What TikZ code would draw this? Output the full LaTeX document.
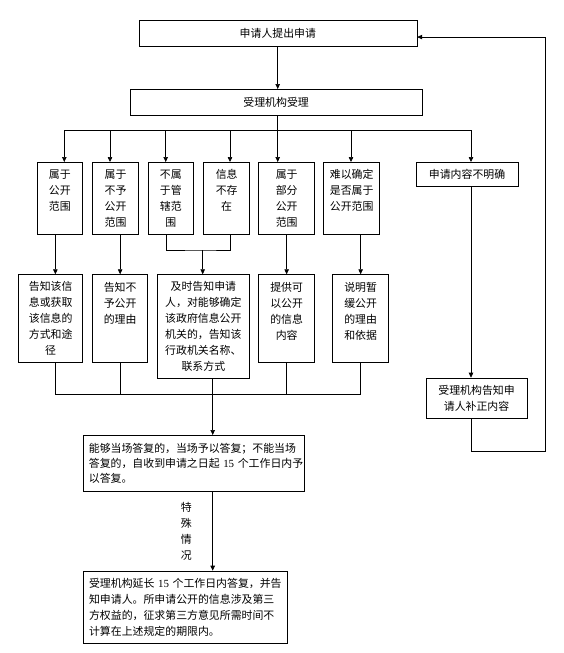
\documentclass[tikz,border=0pt]{standalone}
\usepackage{fontspec}
\setmainfont{Noto Sans CJK SC}
\newfontfamily\latinnum{Liberation Serif}
\usetikzlibrary{arrows.meta, positioning}

\begin{document}
\begin{tikzpicture}[x=1pt, y=-1pt,
    kuang/.style={draw, line width=0.7pt, inner sep=0pt, align=center, anchor=north west,
                  font=\fontsize{10.9pt}{16pt}\selectfont},
    xian/.style={line width=0.7pt},
    jiantou/.style={line width=0.7pt, -{Triangle[length=5pt,width=4.5pt]}}]
  \useasboundingbox (0,0) rectangle (563,653);

  \node[kuang, minimum width=278pt, minimum height=25.7pt] (tichu) at (138.5,20) {申请人提出申请};
  \node[kuang, minimum width=292.5pt, minimum height=26pt] (shouli) at (129.5,89) {受理机构受理};

  \node[kuang, minimum width=45.6pt, minimum height=72pt] (gongkai) at (36.7,162) {属于\\公开\\范围\\\mbox{}};
  \node[kuang, minimum width=45.7pt, minimum height=72pt] (buyu) at (92.3,162) {属于\\不予\\公开\\范围};
  \node[kuang, minimum width=45.6pt, minimum height=72pt] (buguanxia) at (147.7,162) {不属\\于管\\辖范\\围};
  \node[kuang, minimum width=46pt, minimum height=72pt] (bucunzai) at (203.3,162) {信息\\不存\\在\\\mbox{}};
  \node[kuang, minimum width=56pt, minimum height=72pt] (bufen) at (258.3,162) {属于\\部分\\公开\\范围};
  \node[kuang, minimum width=56pt, minimum height=72pt] (nanyi) at (323.3,162) {难以确定\\是否属于\\公开范围\\\mbox{}};
  \node[kuang, minimum width=102pt, minimum height=24pt] (buming) at (415.7,162) {申请内容不明确};

  \node[kuang, minimum width=64pt, minimum height=88pt] (gaozhi) at (18.3,274.3) {告知该信\\息或获取\\该信息的\\方式和途\\径};
  \node[kuang, minimum width=55pt, minimum height=88pt] (liyou) at (92.3,274.3) {告知不\\予公开\\的理由\\\mbox{}\\\mbox{}};
  \node[kuang, minimum width=92.6pt, minimum height=104pt] (zhuanjiao) at (156.7,274.3) {及时告知申请\\人，对能够确定\\该政府信息公开\\机关的，告知该\\行政机关名称、\\联系方式};
  \node[kuang, minimum width=56pt, minimum height=88pt] (tigong) at (258.3,274.3) {提供可\\以公开\\的信息\\内容\\\mbox{}};
  \node[kuang, minimum width=56pt, minimum height=88pt] (shuoming) at (332.3,274.3) {说明暂\\缓公开\\的理由\\和依据\\\mbox{}};
  \node[kuang, minimum width=101pt, minimum height=40.6pt] (buzheng) at (425.7,377.7) {受理机构告知申\\请人补正内容};

  \node[kuang, align=left, text width=210pt, inner xsep=5.8pt, minimum height=56pt,
        font=\fontsize{10.9pt}{15pt}\selectfont] (dafu) at (82.7,435)
        {能够当场答复的，当场予以答复；不能当场\\答复的，自收到申请之日起~{\latinnum 15}~个工作日内予\\以答复。};
  \node[kuang, align=left, text width=192pt, inner xsep=6pt, minimum height=72.6pt] (yanchang) at (82.7,570.7)
        {受理机构延长~{\latinnum 15}~个工作日内答复，并告\\知申请人。所申请公开的信息涉及第三\\方权益的，征求第三方意见所需时间不\\计算在上述规定的期限内。};

  \coordinate (zong) at (277.7,130);
  \draw[jiantou] (tichu.south -| zong) -- (shouli.north -| zong);
  \draw[xian] (shouli.south -| zong) -- (zong);
  \foreach \x/\n [count=\i] in {64.3/gongkai, 110/buyu, 165.7/buguanxia, 230/bucunzai,
                                277.7/bufen, 351/nanyi, 471/buming} {
    \coordinate (b\i) at (\x,130);
    \draw[jiantou] (b\i) -- (b\i |- \n.north);
  }
  \draw[xian] (b1) -- (b7);

  \draw[jiantou] ([xshift=4.7pt]gaozhi.north |- gongkai.south) -- ([xshift=4.7pt]gaozhi.north);
  \draw[jiantou] (liyou.north |- buyu.south) -- (liyou.north);
  \draw[jiantou] (tigong.north |- bufen.south) -- (tigong.north);
  \draw[jiantou] (shuoming.north |- nanyi.south) -- (shuoming.north);
  \coordinate (he) at (202.7,250);
  \draw[xian] ([xshift=-4.8pt]buguanxia.south) |- (he) -| ([xshift=3.7pt]bucunzai.south);
  \draw[jiantou] (he) -- (he |- zhuanjiao.north);

  \coordinate (hui) at (212.7,394);
  \draw[xian] ([xshift=4.7pt]gaozhi.south) |- (shuoming.south |- hui) -- (shuoming.south);
  \draw[xian] (liyou.south) -- (liyou.south |- hui);
  \draw[xian] (tigong.south) -- (tigong.south |- hui);
  \draw[xian] (hui |- zhuanjiao.south) -- (hui);
  \draw[jiantou] (hui) -- (hui |- dafu.north);
  \draw[jiantou] (hui |- dafu.south) -- (hui |- yanchang.north)
    node[midway, left=20.5pt, inner sep=0pt, align=center, font=\fontsize{10.9pt}{16pt}\selectfont] (teshu) {特\\殊\\情\\况};

  \draw[jiantou] (b7 |- buming.south) -- (b7 |- buzheng.north);
  \coordinate (huan) at (545.7,451);
  \draw[jiantou] (b7 |- buzheng.south) |- (huan) |- ([yshift=-3.85pt]tichu.east);
\end{tikzpicture}
\end{document}
